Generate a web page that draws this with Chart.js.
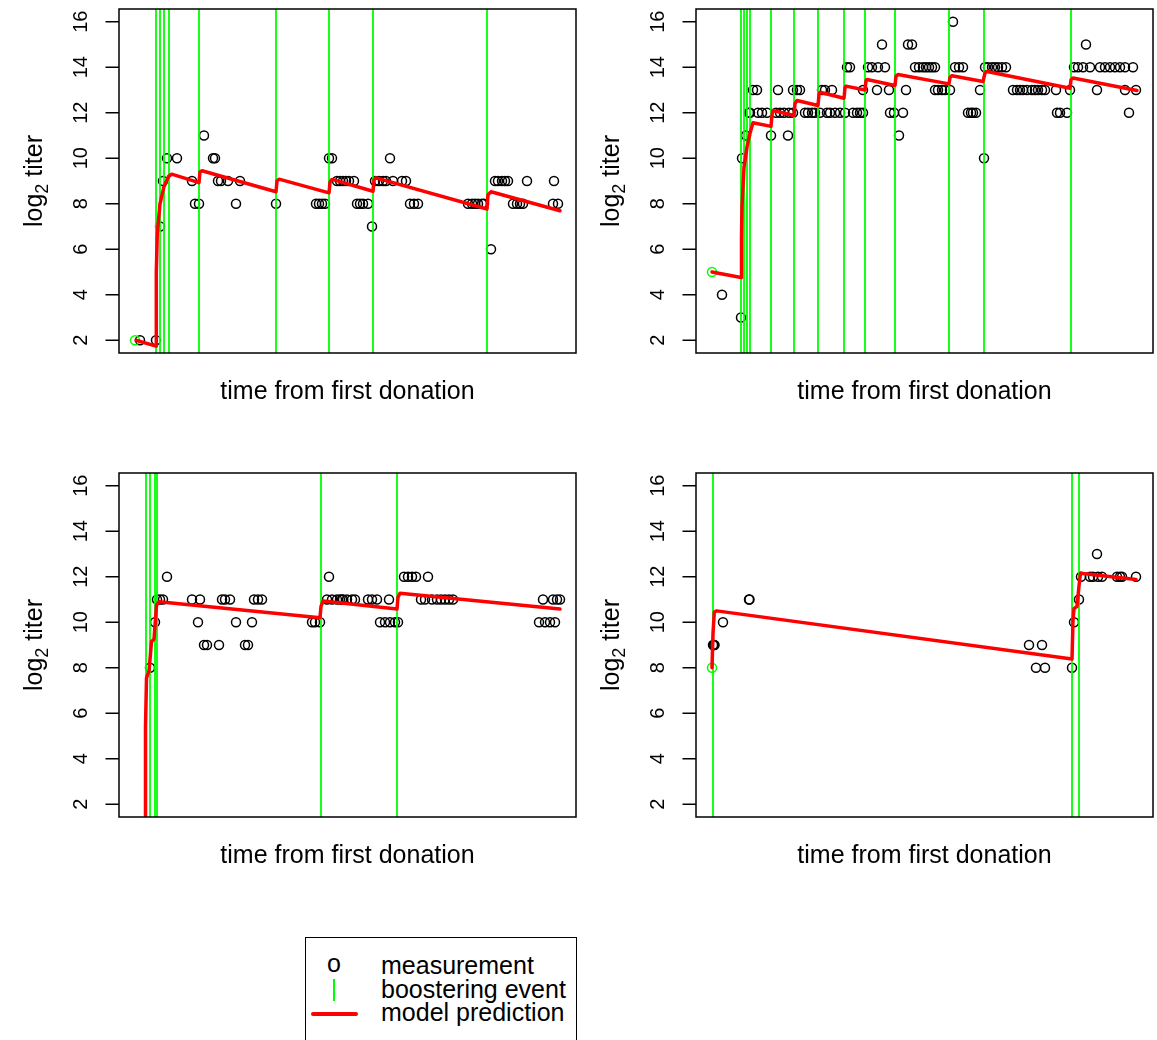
<!DOCTYPE html>
<html>
<head>
<meta charset="utf-8">
<script src="https://cdn.jsdelivr.net/npm/chart.js@4.4.1/dist/chart.umd.min.js"></script>
<style>
  html, body { margin: 0; padding: 0; background: #fff; width: 1157px; height: 1040px; overflow: hidden; }
  canvas { position: absolute; }
  .lg { position: absolute; font-family: "Liberation Sans", Arial, sans-serif; font-size: 25px; line-height: 25px; color: #000; white-space: nowrap; }
</style>
</head>
<body>
<canvas id="c1" width="578" height="464" style="left:0px;top:0px"></canvas>
<canvas id="c2" width="578" height="464" style="left:577px;top:0px"></canvas>
<canvas id="c3" width="578" height="464" style="left:0px;top:464px"></canvas>
<canvas id="c4" width="578" height="464" style="left:577px;top:464px"></canvas>

<div style="position:absolute;left:305px;top:937px;width:270px;height:140px;border:1px solid #000;"></div>
<div class="lg" style="left:327px;top:951px;">o</div>
<div style="position:absolute;left:333px;top:979px;width:2px;height:22px;background:#00ff00;"></div>
<div style="position:absolute;left:311px;top:1012px;width:47px;height:4px;background:#ff0000;border-radius:2px;"></div>
<div class="lg" style="left:381px;top:953px;">measurement</div>
<div class="lg" style="left:381px;top:977px;">boostering event</div>
<div class="lg" style="left:381px;top:1000px;">model prediction</div>

<script>
// ---------- axis ----------
const yTicks = [2, 4, 6, 8, 10, 12, 14, 16];
const yMin = 1.44, yMax = 16.56;
const tMin = 0, tMax = 457;   // time from first donation (arbitrary units, no ticks shown)

// ---------- panel 1 ----------
const p1FirstT = [16];
const p1FirstY = [2];
const p1MeasT = [21,37,41,44,48,58,73,76,80,85,94,96,99,102,109,117,121,157,197,200,203,206,210,213,
  218,221,224,227,230,235,238,241,244,249,253,256,260,264,267,274,283,287,271,291,295,299,
  349,353,356,359,363,365,372,376,379,383,386,389,394,398,401,404,408,435,434,439];
const p1MeasY = [2,2,7,9,10,10,9,8,8,11,10,10,9,9,9,8,9,8,8,8,8,8,10,10,
  9,9,9,9,9,9,8,8,8,8,7,9,9,9,9,9,9,9,10,8,8,8,
  8,8,8,8,8,8,6,9,9,9,9,9,8,8,8,8,9,9,8,8];
const p1Boost = [37, 41, 45, 50, 80, 157, 210, 254, 368];
const p1PredT = [17,37,37.3,38.3,41,45,49.5,52.7,80,81,83,157,158,160,210,211,213,254,255,257,368,369,372,441];
const p1PredY = [2,1.74,5.0,6.7,8.0,8.75,9.2,9.3,8.93,9.4,9.45,8.53,9.0,9.08,8.48,8.95,9.07,8.55,9.05,9.14,7.77,8.4,8.53,7.69];

// ---------- panel 2 ----------
const p2FirstT = [16];
const p2FirstY = [5];
const p2MeasT = [26,45,46,50,53,57,61,82,54,62,66,71,75,92,80,84,88,93,97,97,101,104,
  109,112,116,119,124,131,134,139,144,149,157,161,164,167,126,129,136,151,154,
  167,181,193,210,172,176,182,189,186,212,216,194,198,207,203,
  219,223,227,230,233,236,239,257,259,263,267,239,242,246,249,254,272,275,277,280,284,288,
  289,292,296,299,302,306,310,317,321,324,327,331,336,339,342,346,349,360,361,364,371,374,
  378,382,387,394,404,409,414,419,424,429,437,390,401,429,440,433];
const p2MeasY = [4,3,10,11,12,13,13,13,12,12,12,12,11,11,12,12,12,12,12,13,13,13,
  12,12,12,12,12,12,12,12,12,12,12,12,12,12,13,13,13,14,14,
  13,13,13,13,14,14,14,14,15,15,15,12,12,12,11,
  14,14,14,14,14,14,14,16,14,14,14,13,13,13,13,13,12,12,12,12,13,10,
  14,14,14,14,14,14,14,13,13,13,13,13,13,13,13,13,13,13,12,12,12,13,
  14,14,14,14,14,14,14,14,14,14,14,15,13,13,13,12];
const p2Boost = [45, 48, 51, 54, 75, 98, 122, 148, 169, 199, 253, 288, 375];
const p2PredT = [16,45,45.5,46,48,51,54,57,75,76,77,98,99,101,122,123,124,148,149,150,169,170,171,199,200,202,253,254,256,287,289,291,374,375,377,441];
const p2PredY = [5,4.76,6.5,7.9,9.6,10.5,11.1,11.56,11.4,11.9,12.1,11.88,12.4,12.54,12.32,12.8,12.9,12.64,13.1,13.17,13.0,13.4,13.46,13.2,13.6,13.68,13.27,13.55,13.63,13.37,13.75,13.81,13.08,13.45,13.53,12.98];

// ---------- panel 3 ----------
const p3FirstT = [];
const p3FirstY = [];
const p3MeasT = [31,36,38,41,44,48,73,81,79,85,88,100,103,106,111,117,126,129,135,139,143,133,
  193,196,201,210,208,213,218,223,228,221,224,233,236,249,253,258,270,261,266,271,276,279,
  285,289,293,297,309,302,306,313,318,322,326,330,334,424,434,438,441,420,426,431,436];
const p3MeasY = [8,10,11,11,11,12,11,11,10,9,9,9,11,11,11,10,9,9,11,11,11,10,
  10,10,10,12,11,11,11,11,11,11,11,11,11,11,11,11,11,10,10,10,10,10,
  12,12,12,12,12,11,11,11,11,11,11,11,11,11,11,11,11,10,10,10,10];
const p3Boost = [27, 31, 36, 38, 202, 278];
const p3PredT = [26,26.5,27.5,30,32.5,35,37.5,40,201,202,204,278,279,281,441];
const p3PredY = [-3,5.4,7.55,7.85,9.15,9.25,10.75,10.9,10.2,10.7,10.93,10.58,11.1,11.27,10.58];

// ---------- panel 4 ----------
const p4FirstT = [16];
const p4FirstY = [8];
const p4MeasT = [17,18,18.5,27,53,53.5,333,346,340,349,376,378,383,385,394,397,402,406,421,424,426,440,401];
const p4MeasY = [9,9,9,10,11,11,9,9,8,8,8,10,11,12,12,12,12,12,12,12,12,12,13];
const p4Boost = [17, 376, 383];
const p4PredT = [16,17,18.3,20.7,376,377,378,381,383,384.5,440];
const p4PredY = [8,9.5,10.45,10.5,8.38,10.1,10.6,10.7,11.6,12.15,11.88];

// ---------- drawing ----------
const FONT = '"Liberation Sans", Arial, sans-serif';
const pts = (xs, ys) => xs.map((x, i) => ({ x: x, y: ys[i] }));
const vlines = (bs) => bs.flatMap(b => [{ x: b, y: yMin - 2 }, { x: b, y: yMax + 2 }, { x: b, y: null }]);

const framePlugin = {
  id: 'frame',
  afterDraw(chart) {
    const ctx = chart.ctx, a = chart.chartArea, ys = chart.scales.y;
    ctx.save();
    ctx.strokeStyle = '#000';
    ctx.lineWidth = 1.5;
    ctx.strokeRect(a.left, a.top, a.right - a.left, a.bottom - a.top);
    ctx.fillStyle = '#000';
    ctx.font = '20px ' + FONT;
    ctx.textAlign = 'center';
    ctx.textBaseline = 'alphabetic';
    yTicks.forEach(v => {
      const py = ys.getPixelForValue(v);
      ctx.beginPath();
      ctx.moveTo(a.left - 13.5, py);
      ctx.lineTo(a.left, py);
      ctx.stroke();
      ctx.save();
      ctx.translate(a.left - 32, py);
      ctx.rotate(-Math.PI / 2);
      ctx.fillText(String(v), 0, 0);
      ctx.restore();
    });
    ctx.font = '25px ' + FONT;
    ctx.fillText('time from first donation', (a.left + a.right) / 2, a.bottom + 46);
    const big = '25px ' + FONT, small = '18px ' + FONT;
    ctx.font = big; const w1 = ctx.measureText('log').width; const w3 = ctx.measureText(' titer').width;
    ctx.font = small; const w2 = ctx.measureText('2').width;
    const tot = w1 + w2 + w3;
    ctx.save();
    ctx.translate(42, (a.top + a.bottom) / 2);
    ctx.rotate(-Math.PI / 2);
    ctx.textAlign = 'left';
    let x0 = -tot / 2;
    ctx.font = big; ctx.fillText('log', x0, 0); x0 += w1;
    ctx.font = small; ctx.fillText('2', x0, 6); x0 += w2;
    ctx.font = big; ctx.fillText(' titer', x0, 0);
    ctx.restore();
    ctx.restore();
  }
};

function makePanel(id, firstT, firstY, measT, measY, boost, predT, predY) {
  new Chart(document.getElementById(id), {
    type: 'scatter',
    data: {
      datasets: [
        { data: pts(predT, predY), showLine: true, borderColor: '#ff0000', borderWidth: 3.5,
          pointRadius: 0, borderJoinStyle: 'round', borderCapStyle: 'round', fill: false, order: 0, clip: 0 },
        { data: vlines(boost), showLine: true, borderColor: '#00ff00', borderWidth: 1.8,
          pointRadius: 0, spanGaps: false, fill: false, order: 1, clip: 0 },
        { data: pts(firstT, firstY), pointRadius: 4.5, borderWidth: 1.5, borderColor: '#00ff00',
          backgroundColor: 'rgba(0,0,0,0)', order: 2 },
        { data: pts(measT, measY), pointRadius: 4.5, borderWidth: 1.5, borderColor: '#000000',
          backgroundColor: 'rgba(0,0,0,0)', order: 3 }
      ]
    },
    options: {
      responsive: false,
      animation: false,
      devicePixelRatio: 1,
      events: [],
      layout: { autoPadding: false, padding: { left: 119, right: 2, top: 9, bottom: 111 } },
      plugins: { legend: { display: false }, tooltip: { enabled: false } },
      scales: {
        x: { type: 'linear', min: tMin, max: tMax, display: false },
        y: { type: 'linear', min: yMin, max: yMax, display: false }
      }
    },
    plugins: [framePlugin]
  });
}

makePanel('c1', p1FirstT, p1FirstY, p1MeasT, p1MeasY, p1Boost, p1PredT, p1PredY);
makePanel('c2', p2FirstT, p2FirstY, p2MeasT, p2MeasY, p2Boost, p2PredT, p2PredY);
makePanel('c3', p3FirstT, p3FirstY, p3MeasT, p3MeasY, p3Boost, p3PredT, p3PredY);
makePanel('c4', p4FirstT, p4FirstY, p4MeasT, p4MeasY, p4Boost, p4PredT, p4PredY);
</script>
</body>
</html>
